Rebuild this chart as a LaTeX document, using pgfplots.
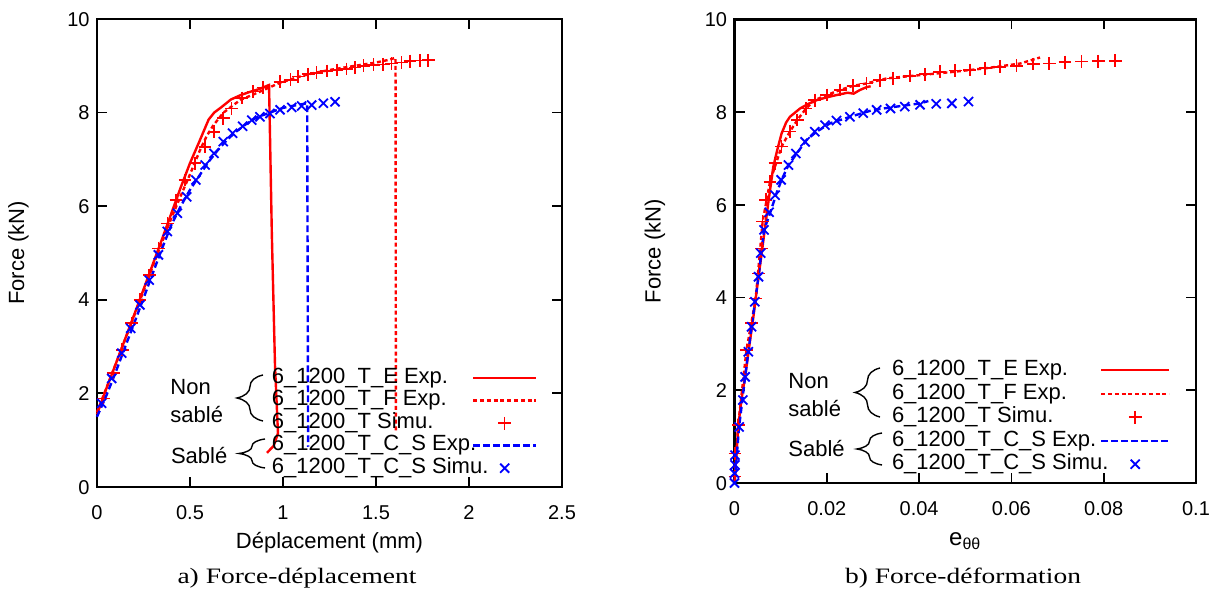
\documentclass[border=0pt]{standalone}
\usepackage{fontspec}
\setmainfont{Liberation Sans}
\newfontfamily\capfont{Liberation Serif}
\usepackage{pgfplots}
\pgfplotsset{compat=1.18}
\usetikzlibrary{decorations.pathreplacing}
\newcommand\tickfont{\fontsize{10}{12}\selectfont}
\newcommand\labfont{\fontsize{11}{13}\selectfont}
\newcommand\legfont{\fontsize{11}{13}\selectfont}
\definecolor{gred}{RGB}{255,0,0}
\definecolor{gblue}{RGB}{0,0,255}
\pgfplotsset{
  gp/.style={
    scale only axis, clip=false,
    axis line style={line width=1.2pt},
    major tick style={line width=0.9pt, black},
    major tick length=5pt, tick align=inside,
    ymin=0, ymax=10, ytick={0,2,4,6,8,10}, yticklabels={0,2,4,6,8,10},
    scaled x ticks=false,
    ticklabel style={font=\tickfont},
    xticklabel style={text height=7.2pt, text depth=0pt, inner sep=0pt, anchor=north, yshift=-8.9pt},
    yticklabel style={text height=7.2pt, text depth=0pt, inner sep=0pt, anchor=east, xshift=-3.5pt},
    label style={font=\labfont},
    legend cell align=left, legend plot pos=right,
    legend style={draw=none, fill=none, inner sep=0pt, outer sep=0pt, column sep=0pt,
      anchor=north west, font=\legfont,
      nodes={inner sep=0pt, text height=7.8pt, text depth=2.5pt}},
  },
  redE/.style={gred, line width=1.2pt, mark=none},
  redF/.style={gred, line width=1.2pt, mark=none, dash pattern=on 2pt off 1.4pt},
  redS/.style={gred, only marks, mark=+, mark size=3.2pt, mark options={line width=0.8pt}},
  blueE/.style={gblue, line width=1.2pt, mark=none, dash pattern=on 3.3pt off 1.7pt},
  blueS/.style={gblue, only marks, mark=x, mark size=3.2pt, mark options={line width=0.9pt}},
}
\begin{document}
\begin{tikzpicture}
\useasboundingbox (0,0) rectangle (610.5pt,297pt);
% ---------------- left panel
\begin{axis}[gp,
  at={(48.5pt,53.5pt)}, anchor=south west, width=232.5pt, height=234pt,
  xmin=0, xmax=2.5, xtick={0,0.5,1,1.5,2,2.5}, xticklabels={0,0.5,1,1.5,2,2.5},
  xlabel={Déplacement (mm)}, ylabel={Force (kN)},
  xlabel style={at={(axis description cs:0.5,0)}, anchor=center, yshift=-28pt},
  ylabel style={at={(axis description cs:-0.1688,0.5)}, anchor=center},
  legend style={at={(axis description cs:0.3763,0.2545)}, row sep=0.95pt},
  legend image code/.code={\draw[mark repeat=2,mark phase=2,#1] plot coordinates {(0pt,0pt) (15.75pt,0pt) (31.5pt,0pt)};},
]
\addplot[redE] coordinates {(0,1.55) (0.05,2.1) (0.1,2.62) (0.15,3.15) (0.2,3.68) (0.25,4.22) (0.3,4.76) (0.35,5.3) (0.4,5.85) (0.45,6.4) (0.5,6.92) (0.55,7.38) (0.6,7.85) (0.63,8.0) (0.67,8.12) (0.72,8.28) (0.77,8.37) (0.82,8.44) (0.87,8.5) (0.925,8.59) (0.94,5.4) (0.957,2.6) (0.973,1.15) (0.95,0.88) (0.914,0.73)};
\addlegendentry{\makebox[100pt][l]{6\_1200\_T\_E Exp.}}
\addplot[redF] coordinates {(0,1.6) (0.1,2.62) (0.2,3.66) (0.3,4.72) (0.4,5.75) (0.45,6.22) (0.5,6.68) (0.554,7.2) (0.59,7.5) (0.624,7.72) (0.68,8.0) (0.77,8.27) (0.86,8.42) (0.98,8.63) (1.08,8.76) (1.16,8.84) (1.25,8.91) (1.34,8.97) (1.42,9.02) (1.5,9.07) (1.56,9.12) (1.605,9.17) (1.607,1.2)};
\addlegendentry{\makebox[100pt][l]{6\_1200\_T\_F Exp.}}
\addplot[redS] coordinates {(0.034,1.89) (0.088,2.43) (0.136,2.93) (0.186,3.50) (0.231,4.0) (0.281,4.53) (0.330,5.10) (0.378,5.63) (0.425,6.13) (0.473,6.56) (0.527,6.92) (0.581,7.27) (0.629,7.59) (0.679,7.88) (0.724,8.09) (0.778,8.31) (0.840,8.45) (0.894,8.54) (0.984,8.66) (1.04,8.70) (1.082,8.77) (1.136,8.82) (1.18,8.85) (1.235,8.89) (1.289,8.91) (1.342,8.93) (1.387,8.96) (1.432,9.0) (1.486,9.02) (1.539,9.03) (1.584,9.05) (1.638,9.07) (1.683,9.10) (1.736,9.11) (1.781,9.12)};
\addlegendentry{\makebox[100pt][l]{6\_1200\_T Simu.}}
\addplot[blueE] coordinates {(0,1.5) (0.05,1.95) (0.1,2.45) (0.15,2.98) (0.2,3.5) (0.25,4.03) (0.3,4.57) (0.35,5.1) (0.4,5.6) (0.45,6.0) (0.5,6.35) (0.55,6.65) (0.6,6.95) (0.65,7.2) (0.7,7.42) (0.75,7.6) (0.8,7.75) (0.86,7.9) (0.93,8.0) (1.0,8.1) (1.06,8.15) (1.13,8.2) (1.135,0.86)};
\addlegendentry{\makebox[100pt][l]{6\_1200\_T\_C\_S Exp.}}
\addplot[blueS] coordinates {(0.025,1.79) (0.079,2.32) (0.133,2.86) (0.181,3.39) (0.231,3.89) (0.281,4.42) (0.330,4.96) (0.378,5.46) (0.432,5.85) (0.482,6.20) (0.532,6.56) (0.581,6.88) (0.629,7.13) (0.679,7.38) (0.729,7.56) (0.783,7.71) (0.832,7.84) (0.876,7.91) (0.930,7.98) (0.984,8.06) (1.047,8.11) (1.10,8.14) (1.154,8.16) (1.217,8.20) (1.28,8.23)};
\addlegendentry{\makebox[100pt][l]{6\_1200\_T\_C\_S Simu.}}
\end{axis}
% ---------------- right panel
\begin{axis}[gp,
  at={(367.25pt,55.5pt)}, anchor=south west, width=230.75pt, height=231.75pt,
  xmin=0, xmax=0.1, xtick={0,0.02,0.04,0.06,0.08,0.1}, xticklabels={0,0.02,0.04,0.06,0.08,0.1},
  xlabel={\fontsize{12}{14}\selectfont e\textsubscript{θθ}}, ylabel={Force (kN)},
  xlabel style={at={(axis description cs:0.5,0)}, anchor=center, yshift=-29pt},
  ylabel style={at={(axis description cs:-0.1723,0.5)}, anchor=center},
  legend style={at={(axis description cs:0.3413,0.2655)}, row sep=1.45pt},
  legend image code/.code={\draw[mark repeat=2,mark phase=2,#1] plot coordinates {(0pt,0pt) (17pt,0pt) (34pt,0pt)};},
]
\addplot[redE] coordinates {(0,0) (0.0004,0.6) (0.0008,1.21) (0.0015,1.8) (0.0023,2.29) (0.0032,2.95) (0.0041,3.59) (0.005,4.3) (0.0059,4.96) (0.0066,5.5) (0.0073,6.03) (0.0084,6.82) (0.0093,7.2) (0.0102,7.54) (0.0112,7.78) (0.012,7.9) (0.0142,8.08) (0.016,8.18) (0.0178,8.26) (0.02,8.32) (0.0221,8.37) (0.0245,8.42) (0.0258,8.4) (0.0272,8.48) (0.0286,8.54) (0.0295,8.56)};
\addlegendentry{\makebox[104pt][l]{6\_1200\_T\_E Exp.}}
\addplot[redF] coordinates {(0,0) (0.0008,1.25) (0.0026,2.87) (0.0046,3.98) (0.0061,5.64) (0.0077,6.5) (0.0102,7.26) (0.012,7.58) (0.0136,7.83) (0.0155,8.08) (0.0174,8.26) (0.02,8.37) (0.0229,8.48) (0.0257,8.57) (0.0286,8.62) (0.033,8.73) (0.0402,8.80) (0.0474,8.87) (0.0546,8.95) (0.0619,9.05) (0.0662,9.18)};
\addlegendentry{\makebox[104pt][l]{6\_1200\_T\_F Exp.}}
\addplot[redS] coordinates {(0.0001,0.14) (0.0001,0.64) (0.0008,1.25) (0.0026,2.87) (0.0037,3.45) (0.0046,3.98) (0.0052,4.52) (0.0059,5.06) (0.0061,5.64) (0.0068,6.11) (0.0077,6.50) (0.0088,6.90) (0.0102,7.26) (0.012,7.58) (0.0136,7.83) (0.0155,8.08) (0.0174,8.26) (0.020,8.37) (0.0229,8.48) (0.0257,8.57) (0.0286,8.62) (0.0315,8.69) (0.0344,8.73) (0.038,8.78) (0.0413,8.82) (0.0445,8.87) (0.0478,8.90) (0.051,8.91) (0.0543,8.95) (0.0575,8.98) (0.0611,9.0) (0.0647,9.04) (0.0682,9.05) (0.0716,9.08) (0.0752,9.09) (0.0788,9.10) (0.0825,9.11)};
\addlegendentry{\makebox[104pt][l]{6\_1200\_T Simu.}}
\addplot[blueE] coordinates {(0,0) (0.001,1.21) (0.0023,2.29) (0.0037,3.37) (0.0052,4.45) (0.0064,5.46) (0.0077,5.82) (0.0091,6.25) (0.0102,6.54) (0.0117,6.86) (0.0135,7.11) (0.0156,7.40) (0.0178,7.58) (0.0207,7.76) (0.025,7.90) (0.0301,8.05) (0.0351,8.12) (0.0402,8.19) (0.042,8.24)};
\addlegendentry{\makebox[104pt][l]{6\_1200\_T\_C\_S Exp.}}
\addplot[blueS] coordinates {(0,0) (0,0.21) (0.0001,0.39) (0.0001,0.60) (0.0010,1.21) (0.0018,1.79) (0.0023,2.29) (0.0030,2.83) (0.0037,3.37) (0.0044,3.91) (0.0052,4.45) (0.0057,4.96) (0.0064,5.46) (0.0075,5.84) (0.0088,6.21) (0.0101,6.54) (0.0117,6.86) (0.0133,7.11) (0.0153,7.36) (0.0174,7.58) (0.0196,7.72) (0.0221,7.82) (0.025,7.90) (0.0279,7.98) (0.0308,8.05) (0.0338,8.08) (0.0369,8.12) (0.0402,8.16) (0.0437,8.18) (0.0471,8.19) (0.0507,8.23)};
\addlegendentry{\makebox[104pt][l]{6\_1200\_T\_C\_S Simu.}}
\end{axis}
% ---------------- annotations
\node[anchor=west, align=left, font=\legfont, inner sep=0pt] at (85pt,96.5pt) {Non\\[0.6pt]sablé};
\node[anchor=west, font=\legfont, inner sep=0pt] at (85.3pt,69pt) {Sablé};
\draw[line width=0.7pt, decorate, decoration={brace, amplitude=13pt}] (131.5pt,86.5pt) -- (131.5pt,109.5pt);
\draw[line width=0.7pt, decorate, decoration={brace, amplitude=13pt}] (132.5pt,63pt) -- (132.5pt,77.5pt);
\node[anchor=west, align=left, font=\legfont, inner sep=0pt] at (394pt,99.5pt) {Non\\[0.6pt]sablé};
\node[anchor=west, font=\legfont, inner sep=0pt] at (394pt,72.5pt) {Sablé};
\draw[line width=0.7pt, decorate, decoration={brace, amplitude=12.5pt}] (440pt,88.5pt) -- (440pt,113pt);
\draw[line width=0.7pt, decorate, decoration={brace, amplitude=12.5pt}] (441pt,64.5pt) -- (441pt,80.5pt);
\node[font=\capfont\fontsize{11}{13}\selectfont] at (148.5pt,8pt) {\scalebox{1.25}[1]{a) Force-déplacement}};
\node[font=\capfont\fontsize{11}{13}\selectfont] at (481.5pt,8pt) {\scalebox{1.25}[1]{b) Force-déformation}};
\end{tikzpicture}
\end{document}
